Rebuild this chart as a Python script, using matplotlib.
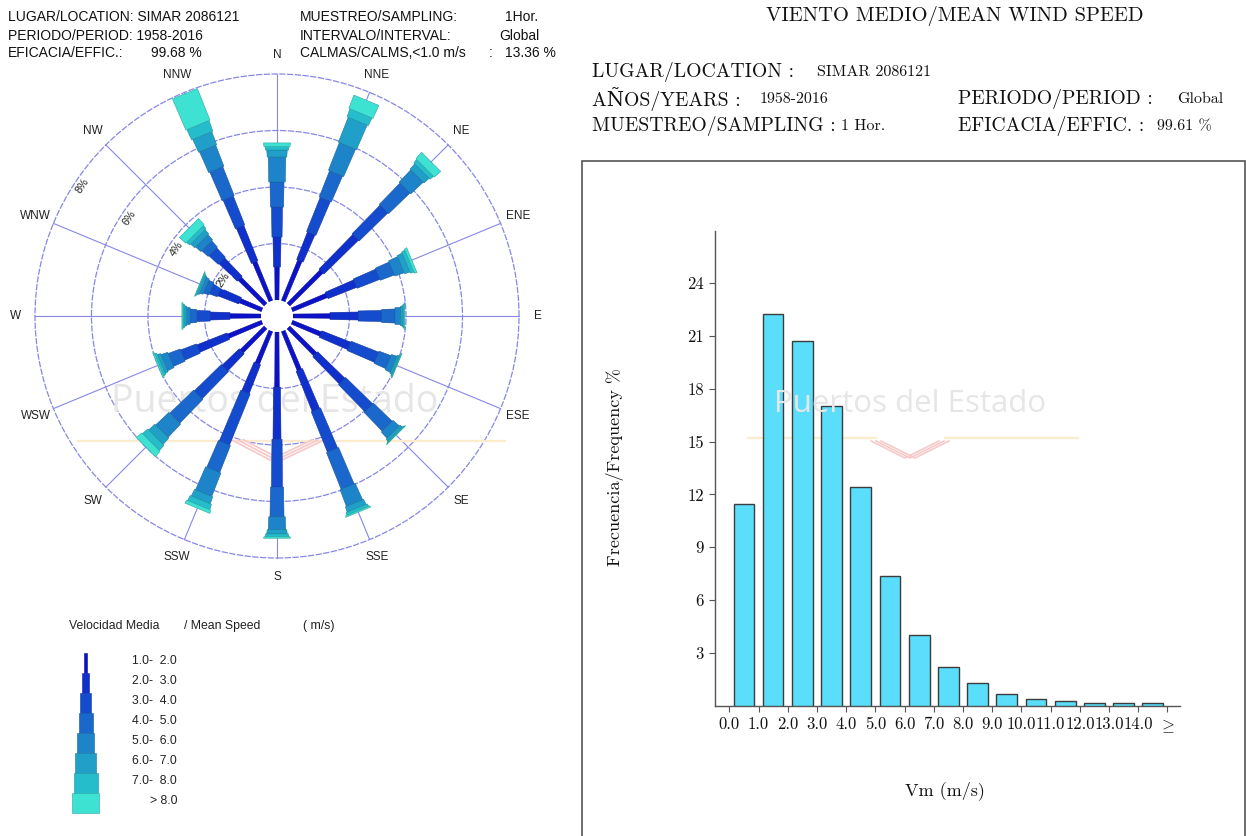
import numpy as np
import matplotlib
matplotlib.use("Agg")
import matplotlib.pyplot as plt
from matplotlib.patches import Polygon, Rectangle, Circle
from matplotlib.lines import Line2D

plt.rcParams["mathtext.fontset"] = "cm"

# ---------------- wind rose: frequency (%) by direction and speed class ----------------
directions = ["N", "NNE", "NE", "ENE", "E", "ESE", "SE", "SSE",
              "S", "SSW", "SW", "WSW", "W", "WNW", "NW", "NNW"]
speed_labels = ["1.0-  2.0", "2.0-  3.0", "3.0-  4.0", "4.0-  5.0",
                "5.0-  6.0", "6.0-  7.0", "7.0-  8.0", "> 8.0"]

freq_1_2 = [1.17, 1.55, 1.66, 1.34, 1.31, 1.10, 1.35, 1.50, 1.95, 1.25, 1.20, 1.30, 1.10, 0.85, 1.30, 1.50]
freq_2_3 = [1.06, 1.05, 1.71, 1.09, 1.00, 1.10, 1.34, 1.53, 1.85, 1.10, 0.84, 1.15, 0.70, 0.80, 0.90, 1.35]
freq_3_4 = [1.06, 1.30, 1.42, 0.87, 0.83, 1.05, 1.34, 1.54, 1.69, 1.95, 1.34, 0.60, 0.48, 0.30, 0.45, 1.10]
freq_4_5 = [0.89, 1.00, 1.05, 0.53, 0.47, 0.45, 0.92, 1.40, 1.05, 1.03, 1.17, 0.45, 0.23, 0.20, 0.30, 1.10]
freq_5_6 = [0.88, 1.05, 0.60, 0.35, 0.20, 0.20, 0.30, 0.63, 0.46, 0.89, 0.65, 0.25, 0.12, 0.12, 0.25, 0.80]
freq_6_7 = [0.25, 0.95, 0.25, 0.20, 0.08, 0.08, 0.10, 0.20, 0.15, 0.26, 0.30, 0.12, 0.08, 0.07, 0.20, 0.50]
freq_7_8 = [0.12, 0.30, 0.16, 0.13, 0.04, 0.03, 0.03, 0.10, 0.10, 0.20, 0.25, 0.08, 0.05, 0.04, 0.14, 0.40]
freq_gt8 = [0.13, 0.50, 0.30, 0.09, 0.03, 0.02, 0.02, 0.05, 0.05, 0.12, 0.25, 0.05, 0.04, 0.02, 0.30, 1.20]

ring_pcts = [2, 4, 6, 8]

# ---------------- mean wind speed histogram ----------------
speed_bins = ["0.0", "1.0", "2.0", "3.0", "4.0", "5.0", "6.0", "7.0", "8.0",
              "9.0", "10.0", "11.0", "12.0", "13.0", "14.0", r"$\geq$"]
hist_freq = [11.46, 22.25, 20.72, 17.0, 12.4, 7.37, 4.0, 2.23, 1.32,
             0.68, 0.40, 0.28, 0.15, 0.15, 0.15]
hist_yticks = [3, 6, 9, 12, 15, 18, 21, 24]

# ---------------- styling ----------------
W, H = 1246, 836
SANS = ["Liberation Sans", "DejaVu Sans"]
SERIF = ["cmr10", "DejaVu Serif"]
class_colors = ["#0c12c8", "#1030cc", "#154ccd", "#1a68cc", "#1e84c9",
                "#209fc9", "#25bdcb", "#3ee2d2"]
class_edges = ["#0a0e9a", "#0d259e", "#113ba0", "#15519f", "#18679c",
               "#197c9c", "#1c939e", "#2aa9a0"]
class_widths_px = [4.5, 8, 11, 14, 17.5, 20.5, 24, 27]
ring_color = "#8787e6"

fig = plt.figure(figsize=(W / 100, H / 100), dpi=100)
fig.patch.set_facecolor("white")


def fx(x):
    return x / W


def fy(y):
    return 1 - y / H


def ftext(x, y, s, **kw):
    fig.text(fx(x), fy(y), s, **kw)


def fline(xs, ys, **kw):
    fig.add_artist(Line2D([fx(v) for v in xs], [fy(v) for v in ys],
                          transform=fig.transFigure, **kw))


# ---------------- left header ----------------
hdr = dict(family=SANS, fontsize=10, color="#111111", va="center")
ftext(8, 17, "LUGAR/LOCATION: SIMAR 2086121", **hdr)
ftext(8, 36, "PERIODO/PERIOD: 1958-2016", **hdr)
ftext(8, 53, "EFICACIA/EFFIC.:", **hdr)
ftext(151, 53, "99.68 %", **hdr)
ftext(300, 17, "MUESTREO/SAMPLING:", **hdr)
ftext(538, 17, "1Hor.", ha="right", **hdr)
ftext(300, 36, "INTERVALO/INTERVAL:", **hdr)
ftext(540, 36, "Global", ha="right", **hdr)
ftext(300, 53, "CALMAS/CALMS,<1.0 m/s", **hdr)
ftext(489, 53, ":", **hdr)
ftext(556, 53, "13.36 %", ha="right", **hdr)

# ---------------- wind rose ----------------
PX = 28.25           # pixels per 1 %
CX, CY = 277, 316    # rose centre in pixels
ax = fig.add_axes([0, fy(CY + 276), 554 / W, 552 / H])
ax.set_xlim(-277 / PX, 277 / PX)
ax.set_ylim(-276 / PX, 276 / PX)
ax.axis("off")

R0 = 16 / PX
outer = R0 + ring_pcts[-1]
for p in ring_pcts:
    ax.add_patch(Circle((0, 0), R0 + p, fill=False, ec=ring_color, lw=0.9,
                        ls=(0, (5, 1.2)), zorder=1))
for i, d in enumerate(directions):
    th = np.deg2rad(i * 22.5)
    s, c = np.sin(th), np.cos(th)
    ax.plot([R0 * s, outer * s], [R0 * c, outer * c], color=ring_color,
            lw=0.8, zorder=1)
    rl = 261 / PX
    ax.text(rl * s, rl * c, d, ha="center", va="center", family=SANS,
            fontsize=8.5, color="#222222")

lab_b = np.deg2rad(303.75)
for p in ring_pcts:
    rr = R0 + p - 8 / PX
    ax.text(rr * np.sin(lab_b), rr * np.cos(lab_b), f"{p}%", rotation=56.25,
            ha="center", va="center", family=SANS, fontsize=7.8,
            color="#222222", zorder=5,
            bbox=dict(fc="white", ec="none", pad=0.3))

# faint watermark
ax.text(-2 / PX, -86 / PX, "Puertos del Estado", ha="center", va="center",
        family=["Open Sans", "DejaVu Sans"], fontsize=27, color="#e6e6e6",
        zorder=2)
ax.plot(np.array([78, 505]) / PX - CX / PX, [-125 / PX, -125 / PX],
        color="#fdebcd", lw=1.6, zorder=2)
for off in (0, 6, 12):
    ax.plot((np.array([232, 270, 312]) + off - CX) / PX,
            (CY - np.array([440, 460, 440])) / PX,
            color="#f6caca", lw=1.3, zorder=2)

classes = [freq_1_2, freq_2_3, freq_3_4, freq_4_5,
           freq_5_6, freq_6_7, freq_7_8, freq_gt8]
cum = np.cumsum(np.array(classes), axis=0)
for i in range(len(directions)):
    th = np.deg2rad(i * 22.5)
    u = np.array([np.sin(th), np.cos(th)])
    pv = np.array([np.cos(th), -np.sin(th)])
    r_prev = R0
    for k in range(len(classes)):
        r_out = R0 + cum[k, i]
        w_out = class_widths_px[k] / PX / 2
        w_prev = (class_widths_px[k - 1] if k > 0 else 2.5) / PX / 2
        w_in = 0.7 * w_out + 0.3 * w_prev
        pts = [r_prev * u - w_in * pv, r_out * u - w_out * pv,
               r_out * u + w_out * pv, r_prev * u + w_in * pv]
        ax.add_patch(Polygon(pts, closed=True, fc=class_colors[k],
                             ec=class_edges[k], lw=0.4, zorder=3))
        r_prev = r_out
ax.add_patch(Circle((0, 0), R0, fc="white", ec="none", zorder=4))

# ---------------- rose legend ----------------
leg = dict(family=SANS, fontsize=8.8, color="#222222", va="center")
ftext(69, 626, "Velocidad Media", **leg)
ftext(184, 626, "/ Mean Speed", **leg)
ftext(303, 626, "( m/s)", **leg)
for k, lab in enumerate(speed_labels):
    top = 653 + 20 * k
    w = class_widths_px[k] if k > 0 else 2.5
    fig.add_artist(Rectangle((fx(85.5 - w / 2), fy(top + 20)), w / W, 20 / H,
                             transform=fig.transFigure, fc=class_colors[k],
                             ec=class_edges[k], lw=0.4))
    ftext(177, top + 8, lab, ha="right", **leg)

# ---------------- right panel ----------------
fig.add_artist(Rectangle((fx(582), -0.01), (1245 - 582) / W, fy(161) + 0.01,
                         transform=fig.transFigure, fill=False,
                         ec="#555555", lw=1.2))

ser = dict(family=SERIF, color="#111111", va="center")
ftext(955, 16, "VIENTO MEDIO/MEAN WIND SPEED", ha="center", fontsize=14.8, **ser)
ftext(592, 72, "LUGAR/LOCATION :", fontsize=14.2, **ser)
ftext(817, 72, "SIMAR 2086121", fontsize=11.5, **ser)
ftext(592, 99, "AÑOS/YEARS :", fontsize=14.2, **ser)
ftext(760, 99, "1958-2016", fontsize=11.5, **ser)
ftext(592, 126, "MUESTREO/SAMPLING :", fontsize=14.2, **ser)
ftext(841, 126, "1 Hor.", fontsize=11.5, **ser)
ftext(958, 99, "PERIODO/PERIOD :", fontsize=14.2, **ser)
ftext(1177, 99, "Global", fontsize=11.5, **ser)
ftext(958, 126, "EFICACIA/EFFIC. :", fontsize=14.2, **ser)
ftext(1157, 126, "99.61 %", fontsize=11.5, **ser)

# histogram
hx = fig.add_axes([fx(715), fy(706), (1180 - 715) / W, (706 - 231) / H])
xpos = np.arange(len(hist_freq)) + 0.5
hx.bar(xpos, hist_freq, width=0.71, color="#5bdefb", edgecolor="#3c3c3c",
       linewidth=1.0, zorder=3)
hx.set_xlim(-0.49, 15.43)
hx.set_ylim(0, 26.94)
hx.set_xticks(np.arange(len(speed_bins)))
hx.set_xticklabels(speed_bins, family=SERIF, fontsize=12)
hx.set_yticks(hist_yticks)
hx.set_yticklabels([str(v) for v in hist_yticks], family=SERIF, fontsize=12)
for sp in ("top", "right"):
    hx.spines[sp].set_visible(False)
for sp in ("left", "bottom"):
    hx.spines[sp].set_color("#555555")
    hx.spines[sp].set_linewidth(1.0)
hx.tick_params(direction="out", length=4, width=0.8, color="#555555",
               labelcolor="#111111", pad=4)
hx.set_facecolor("none")

ftext(910, 404, "Puertos del Estado", ha="center", va="center",
      family=["Open Sans", "DejaVu Sans"], fontsize=22.5, color="#e6e6e6",
      zorder=0)
fline([748, 876], [438, 438], color="#fdebcd", lw=1.6, zorder=0)
fline([945, 1078], [438, 438], color="#fdebcd", lw=1.6, zorder=0)
for off in (0, 5, 10):
    fline(np.array([876, 910, 944]) + off - 5, [441, 458, 441],
          color="#f6caca", lw=1.2, zorder=0)

ftext(615, 467, "Frecuencia/Frequency %", rotation=90, ha="center",
      fontsize=13, **ser)
ftext(945, 791, "Vm (m/s)", ha="center", fontsize=13, **ser)

fig.savefig("out.png", dpi=100, facecolor="white")
